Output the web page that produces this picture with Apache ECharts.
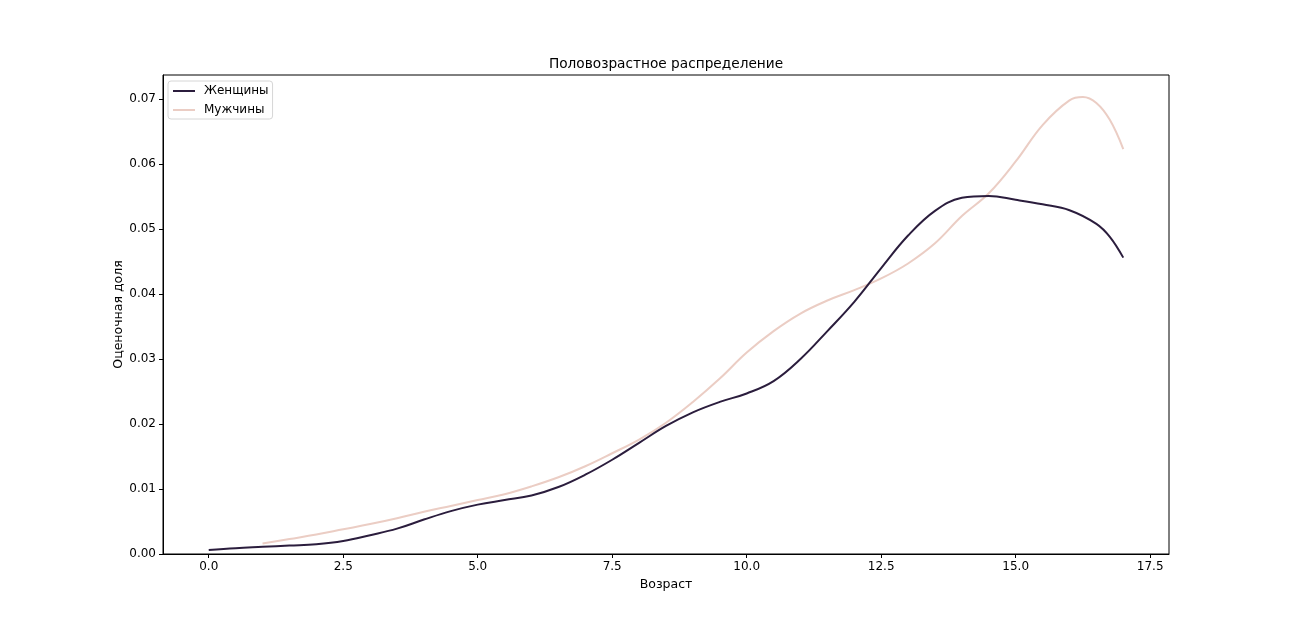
<!DOCTYPE html>
<html>
<head>
<meta charset="utf-8">
<script src="https://cdn.jsdelivr.net/npm/echarts@6/dist/echarts.min.js"></script>
<style>html,body{margin:0;padding:0;background:#fff;}#c{width:1299px;height:623px;}</style>
</head>
<body>
<div id="c"></div>
<script>
const titleText = 'Половозрастное распределение';
const xLabel = 'Возраст';
const yLabel = 'Оценочная доля';
const seriesNames = ['Женщины', 'Мужчины'];
const xTicks = [0, 2.5, 5, 7.5, 10, 12.5, 15, 17.5];
const yTicks = [0, 0.01, 0.02, 0.03, 0.04, 0.05, 0.06, 0.07];

const womenX = [0, 0.5, 1, 1.5, 2, 2.5, 3, 3.5, 4, 4.5, 5, 5.5, 6, 6.5, 7, 7.5, 8, 8.5, 9, 9.5, 10, 10.5, 11, 11.5, 12, 12.5, 13, 13.5, 14, 14.5, 15, 15.5, 16, 16.5, 16.75, 17];
const womenY = [0.0006, 0.0009, 0.0011, 0.0013, 0.0015, 0.0020, 0.0029, 0.0039, 0.0053, 0.0066, 0.0076, 0.0083, 0.0090, 0.0103, 0.0122, 0.0145, 0.0171, 0.0197, 0.0218, 0.0234, 0.0247, 0.0266, 0.0300, 0.0343, 0.0388, 0.0440, 0.0490, 0.0528, 0.0548, 0.0551, 0.0545, 0.0538, 0.0529, 0.0508, 0.0488, 0.0456];

const menX = [1, 1.5, 2, 2.5, 3, 3.5, 4, 4.5, 5, 5.5, 6, 6.5, 7, 7.5, 8, 8.5, 9, 9.5, 10, 10.5, 11, 11.5, 12, 12.5, 13, 13.5, 14, 14.5, 15, 15.5, 16, 16.25, 16.5, 16.75, 17];
const menY = [0.0016, 0.0023, 0.0030, 0.0038, 0.0046, 0.0055, 0.0065, 0.0074, 0.0083, 0.0092, 0.0104, 0.0118, 0.0135, 0.0155, 0.0176, 0.0202, 0.0234, 0.0270, 0.0310, 0.0343, 0.0370, 0.0390, 0.0406, 0.0424, 0.0447, 0.0478, 0.0520, 0.0555, 0.0604, 0.0660, 0.0698, 0.0703, 0.0694, 0.0668, 0.0623];

const colors = ['#2b1d3d', '#ebcdc4'];
const font = 'DejaVu Sans';

function zip(xs, ys) { return xs.map((x, i) => [x, ys[i]]); }

const chart = echarts.init(document.getElementById('c'), null, {renderer: 'canvas'});
chart.setOption({
  animation: false,
  backgroundColor: '#fff',
  textStyle: {fontFamily: font},
  title: {
    text: titleText, left: 661, top: 52, textAlign: 'center',
    textStyle: {fontFamily: font, fontSize: 13.7, fontWeight: 'normal', color: '#000'}
  },
  legend: {
    orient: 'vertical', left: 168, top: 81,
    data: seriesNames,
    icon: 'rect', itemWidth: 22, itemHeight: 2, itemGap: 7,
    padding: [4, 4, 3, 5],
    borderColor: '#d6d6d6', borderWidth: 1, borderRadius: 3,
    backgroundColor: 'rgba(255,255,255,0.8)',
    textStyle: {fontFamily: font, fontSize: 12, color: '#000', padding: [0, 0, 0, 4]}
  },
  grid: {left: 163, right: 130, top: 75, bottom: 69, show: true, borderColor: '#000', borderWidth: 1, containLabel: false},
  xAxis: {
    type: 'value', min: -0.85, max: 17.85,
    name: xLabel, nameLocation: 'middle', nameGap: 24, nameMoveOverlap: false,
    nameTextStyle: {fontFamily: font, fontSize: 12.5, color: '#000'},
    axisLine: {show: true, onZero: false, lineStyle: {color: '#000', width: 1}},
    axisTick: {show: true, length: 4, lineStyle: {color: '#000'}, customValues: xTicks},
    axisLabel: {customValues: xTicks, color: '#000', fontSize: 12, fontFamily: font, margin: 7,
      formatter: v => Number(v).toFixed(1)},
    splitLine: {show: false}
  },
  yAxis: {
    type: 'value', min: 0, max: 0.0737,
    name: yLabel, nameLocation: 'middle', nameGap: 38, nameRotate: 90, nameMoveOverlap: false,
    nameTextStyle: {fontFamily: font, fontSize: 12.5, color: '#000'},
    axisLine: {show: true, onZero: false, lineStyle: {color: '#000', width: 1}},
    axisTick: {show: true, length: 4, lineStyle: {color: '#000'}, customValues: yTicks},
    axisLabel: {customValues: yTicks, color: '#000', fontSize: 12, fontFamily: font, margin: 7,
      formatter: v => Number(v).toFixed(2)},
    splitLine: {show: false}
  },
  series: [
    {name: seriesNames[0], type: 'line', data: zip(womenX, womenY), smooth: 0.4, showSymbol: false, symbol: 'none',
     lineStyle: {color: colors[0], width: 2}, itemStyle: {color: colors[0]}, z: 3},
    {name: seriesNames[1], type: 'line', data: zip(menX, menY), smooth: 0.4, showSymbol: false, symbol: 'none',
     lineStyle: {color: colors[1], width: 2}, itemStyle: {color: colors[1]}, z: 2}
  ]
});
</script>
</body>
</html>
